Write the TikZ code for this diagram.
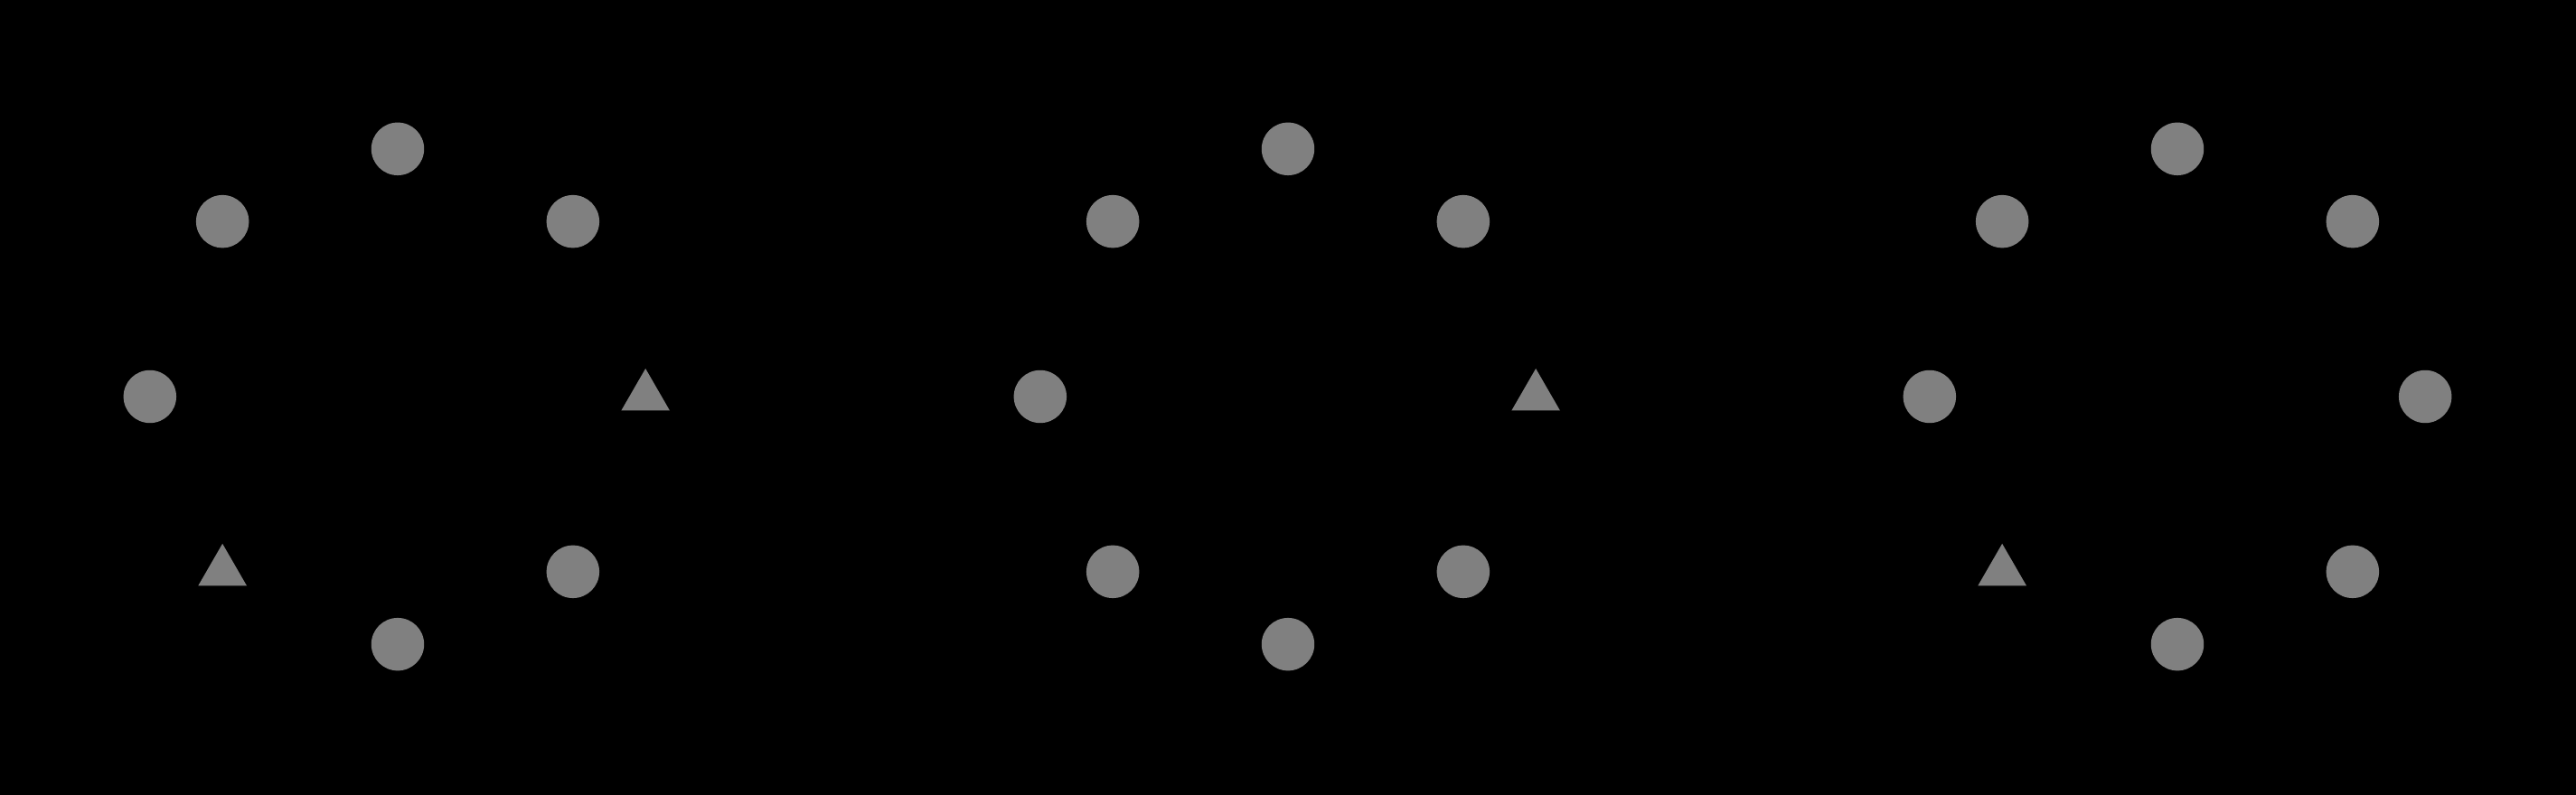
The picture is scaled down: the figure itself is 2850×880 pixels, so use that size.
\documentclass[tikz,border=0pt]{standalone}
\usetikzlibrary{shapes.geometric}
\definecolor{dotgray}{RGB}{128,128,128}
\tikzset{
  dot/.style={circle,fill=dotgray,inner sep=0pt,minimum size=0.584cm},
  tri/.style={regular polygon,regular polygon sides=3,fill=dotgray,inner sep=0pt,minimum size=0.62cm}
}
\begin{document}
\begin{tikzpicture}[x=0.01cm,y=-0.01cm]
\fill[black] (0,0) rectangle (2850,880);
\useasboundingbox (0,0) rectangle (2850,880);
% group 1
\begin{scope}[shift={(440,439)}]
\foreach \a/\s/\n in {90/dot/t,45/dot/ur,135/dot/ul,180/dot/l,0/tri/r,225/tri/ll,315/dot/lr,270/dot/b}{
  \node[\s] (ga\n) at (\a:2.74cm) {};
}
\end{scope}
% group 2
\begin{scope}[shift={(1425,439)}]
\foreach \a/\s/\n in {90/dot/t,45/dot/ur,135/dot/ul,180/dot/l,0/tri/r,225/dot/ll,315/dot/lr,270/dot/b}{
  \node[\s] (gb\n) at (\a:2.74cm) {};
}
\end{scope}
% group 3
\begin{scope}[shift={(2409,439)}]
\foreach \a/\s/\n in {90/dot/t,45/dot/ur,135/dot/ul,180/dot/l,0/dot/r,225/tri/ll,315/dot/lr,270/dot/b}{
  \node[\s] (gc\n) at (\a:2.74cm) {};
}
\end{scope}
\end{tikzpicture}
\end{document}
